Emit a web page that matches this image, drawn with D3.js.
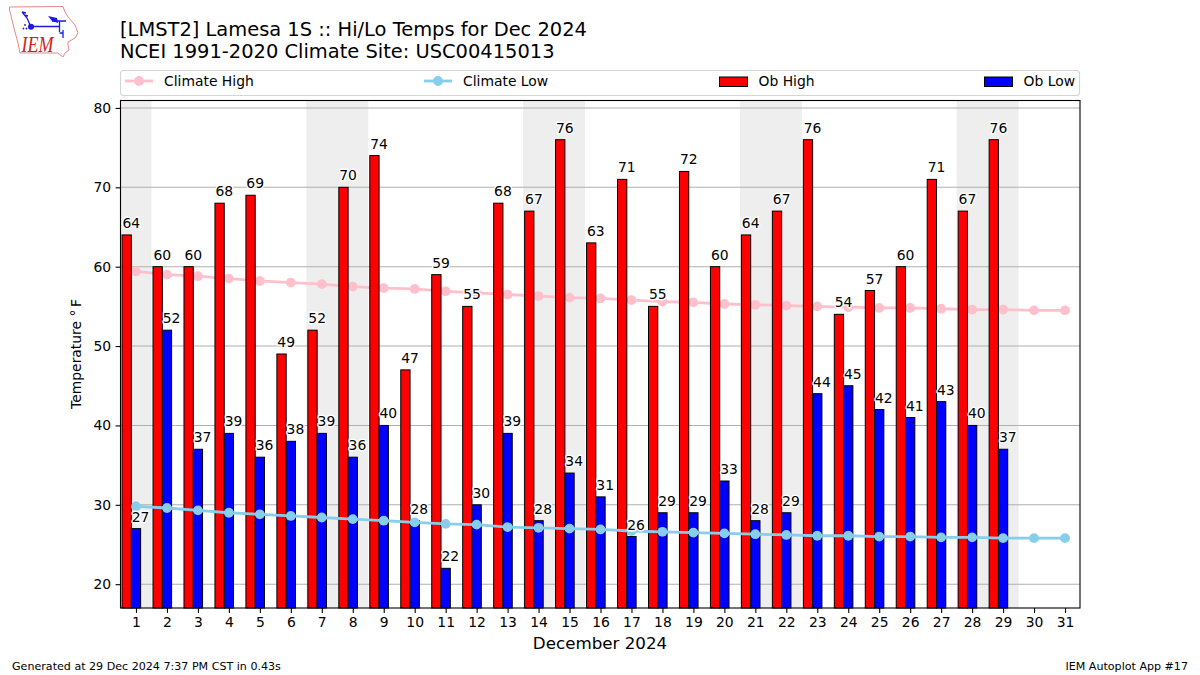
<!DOCTYPE html>
<html>
<head>
<meta charset="utf-8">
<title>Lamesa 1S Hi/Lo Temps</title>
<script src="https://cdn.jsdelivr.net/npm/d3@7"></script>
<style>
html, body { margin: 0; background: #fff; }
svg { display: block; }
text { font-family: "DejaVu Sans", sans-serif; fill: #000; }
.halo { paint-order: stroke; stroke: #fff; stroke-width: 2.8px; stroke-linejoin: round; }
</style>
</head>
<body>
<svg width="1200" height="675"></svg>
<script>
// Valores
const days = d3.range(1, 32);
const obHigh = [64, 60, 60, 68, 69, 49, 52, 70, 74, 47, 59, 55, 68, 67, 76, 63, 71, 55, 72, 60, 64, 67, 76, 54, 57, 60, 71, 67, 76];
const obLow = [27, 52, 37, 39, 36, 38, 39, 36, 40, 28, 22, 30, 39, 28, 34, 31, 26, 29, 29, 33, 28, 29, 44, 45, 42, 41, 43, 40, 37];
const climateHigh = [59.4, 59.0, 58.8, 58.5, 58.2, 58.0, 57.8, 57.5, 57.3, 57.2, 56.9, 56.7, 56.5, 56.3, 56.1, 56.0, 55.8, 55.6, 55.5, 55.3, 55.2, 55.1, 55.0, 54.9, 54.8, 54.8, 54.7, 54.6, 54.6, 54.5, 54.5];
const climateLow = [29.8, 29.6, 29.3, 29.0, 28.8, 28.6, 28.4, 28.2, 28.0, 27.8, 27.6, 27.5, 27.2, 27.1, 27.0, 26.9, 26.7, 26.6, 26.5, 26.4, 26.3, 26.2, 26.1, 26.1, 26.0, 26.0, 25.9, 25.9, 25.8, 25.8, 25.8];
const weekends = [[0.5, 1.5], [6.5, 8.5], [13.5, 15.5], [20.5, 22.5], [27.5, 29.5]];
const yTicks = [20, 30, 40, 50, 60, 70, 80];

const svg = d3.select("svg");
const plotLeft = 120.5, plotRight = 1080, plotTop = 100.5, plotBottom = 608;

const x = d3.scaleLinear().domain([0.5, 31.5]).range([plotLeft, plotRight + 0.5]);
const y = d3.scaleLinear().domain([17, 81]).range([plotBottom, plotTop - 0.5]);
const barW = x(0.3) - x(0);

const plot = svg.append("g");

// Fines de semana
plot.selectAll("rect.weekend")
    .data(weekends)
    .enter().append("rect")
    .attr("class", "weekend")
    .attr("x", d => x(d[0]))
    .attr("width", d => x(d[1]) - x(d[0]))
    .attr("y", plotTop)
    .attr("height", plotBottom - plotTop)
    .attr("fill", "#eeeeee");

// Rejilla horizontal
plot.selectAll("line.grid")
    .data(yTicks)
    .enter().append("line")
    .attr("class", "grid")
    .attr("x1", plotLeft).attr("x2", plotRight)
    .attr("y1", d => y(d)).attr("y2", d => y(d))
    .attr("stroke", "#b0b0b0")
    .attr("stroke-width", 1.1);

function climateLine(values, color) {
    const line = d3.line().x((d, i) => x(days[i])).y(d => y(d));
    const g = plot.append("g");
    g.append("path")
        .attr("d", line(values))
        .attr("fill", "none")
        .attr("stroke", color)
        .attr("stroke-width", 2.8);
    g.selectAll("circle")
        .data(values)
        .enter().append("circle")
        .attr("cx", (d, i) => x(days[i]))
        .attr("cy", d => y(d))
        .attr("r", 4.9)
        .attr("fill", color);
}

// El clima alto queda debajo de las barras
climateLine(climateHigh, "pink");

function bars(values, color, offset) {
    plot.append("g").selectAll("rect")
        .data(values)
        .enter().append("rect")
        .attr("x", (d, i) => x(days[i] + offset) - barW / 2)
        .attr("width", barW)
        .attr("y", d => y(d))
        .attr("height", d => plotBottom - y(d))
        .attr("fill", color)
        .attr("stroke", "#000")
        .attr("stroke-width", 1);
}
bars(obHigh, "red", -0.3);
bars(obLow, "blue", 0);

climateLine(climateLow, "skyblue");

// Etiquetas de valores
function labels(values, offset) {
    svg.append("g").selectAll("text")
        .data(values)
        .enter().append("text")
        .attr("class", "halo")
        .attr("x", (d, i) => x(days[i] + offset))
        .attr("y", d => y(d) - 7)
        .attr("text-anchor", "middle")
        .attr("font-size", 13.9)
        .text(d => d);
}
labels(obHigh, -0.15);
labels(obLow, 0.15);

// Marco
svg.append("rect")
    .attr("x", plotLeft).attr("y", plotTop)
    .attr("width", plotRight - plotLeft).attr("height", plotBottom - plotTop)
    .attr("fill", "none")
    .attr("stroke", "#000")
    .attr("stroke-width", 1.1);

// Ejes
const xAxis = svg.append("g")
    .attr("transform", `translate(0,${plotBottom})`)
    .call(d3.axisBottom(x).tickValues(days).tickFormat(d3.format("d")).tickSize(4.9).tickPadding(4.5));
const yAxis = svg.append("g")
    .attr("transform", `translate(${plotLeft},0)`)
    .call(d3.axisLeft(y).tickValues(yTicks).tickFormat(d3.format("d")).tickSize(4.9).tickPadding(4.5));
[xAxis, yAxis].forEach(a => {
    a.select(".domain").remove();
    a.selectAll(".tick line").attr("stroke", "#000").attr("stroke-width", 1.1);
    a.selectAll(".tick text").attr("font-size", 13.9).attr("font-family", "DejaVu Sans");
});

svg.append("text")
    .attr("x", 600).attr("y", 649)
    .attr("text-anchor", "middle")
    .attr("font-size", 16.7)
    .text("December 2024");

const yLabel = svg.append("text")
    .attr("transform", "translate(81,354) rotate(-90)")
    .attr("text-anchor", "middle")
    .attr("font-size", 13.9)
    .text("Temperature \u00b0");
yLabel.append("tspan").attr("dx", 2.5).text("F");

// Titulo y pie
svg.append("text").attr("x", 120).attr("y", 36).attr("font-size", 19.45)
    .text("[LMST2] Lamesa 1S :: Hi/Lo Temps for Dec 2024");
svg.append("text").attr("x", 120).attr("y", 58).attr("font-size", 19.45)
    .text("NCEI 1991-2020 Climate Site: USC00415013");
svg.append("text").attr("x", 12).attr("y", 670).attr("font-size", 11.1)
    .text("Generated at 29 Dec 2024 7:37 PM CST in 0.43s");
svg.append("text").attr("x", 1188).attr("y", 670).attr("font-size", 11.1)
    .attr("text-anchor", "end")
    .text("IEM Autoplot App #17");

// Leyenda
const legend = svg.append("g");
legend.append("rect")
    .attr("x", 120.5).attr("y", 70.5)
    .attr("width", 959).attr("height", 25)
    .attr("rx", 3)
    .attr("fill", "#fff")
    .attr("stroke", "#d5d5d5")
    .attr("stroke-width", 1.1);

function legendLine(x0, color, name) {
    legend.append("line")
        .attr("x1", x0).attr("x2", x0 + 28)
        .attr("y1", 81).attr("y2", 81)
        .attr("stroke", color).attr("stroke-width", 2.8);
    legend.append("circle")
        .attr("cx", x0 + 14).attr("cy", 81).attr("r", 4.9).attr("fill", color);
    legend.append("text").attr("x", x0 + 39).attr("y", 86).attr("font-size", 13.9).text(name);
}
function legendBar(x0, color, name) {
    legend.append("rect")
        .attr("x", x0).attr("y", 77)
        .attr("width", 28).attr("height", 9.5)
        .attr("fill", color).attr("stroke", "#000").attr("stroke-width", 1);
    legend.append("text").attr("x", x0 + 39).attr("y", 86).attr("font-size", 13.9).text(name);
}
legendLine(125, "pink", "Climate High");
legendLine(424, "skyblue", "Climate Low");
legendBar(719.5, "red", "Ob High");
legendBar(984.5, "blue", "Ob Low");

// Logo IEM
const logo = svg.append("g");
logo.append("path")
    .attr("d", "M9.5,7 L63,6.5 L65,12 L68,17 L75,25 L78,33 L75,38 L68,42 L68,45 L69,50 L65,53 L63,57 L58,53 L20,53 L18,43 L15,32 L12,20 L9.5,10 Z")
    .attr("fill", "none")
    .attr("stroke", "#e58a8a")
    .attr("stroke-width", 1);
logo.append("path")
    .attr("d", "M22,12 L27,18 L31,27 M22,12 L26,13 M24,15 L28,16 M31,26.5 L59,26.5 M52,21 L66,21 M59.5,21 L59.5,32 M59.5,33 L63,33 M63,30 L63,38")
    .attr("fill", "none")
    .attr("stroke", "#1a1ae0")
    .attr("stroke-width", 1.3);
logo.append("circle").attr("cx", 31).attr("cy", 26.7).attr("r", 3).attr("fill", "#1a1ae0");
logo.append("path").attr("d", "M48,16 L57,18 L58,23 L52,21 Z").attr("fill", "#1a1ae0");
logo.selectAll("circle.dot")
    .data([[25, 25], [23.5, 28.5], [26.5, 28.5]])
    .enter().append("circle")
    .attr("class", "dot")
    .attr("cx", d => d[0]).attr("cy", d => d[1])
    .attr("r", 0.9)
    .attr("fill", "#1a1ae0");
logo.append("text")
    .attr("transform", "translate(21.5,52) scale(1,1.25)")
    .attr("font-size", 18)
    .attr("font-style", "italic")
    .style("font-family", "'Liberation Serif'")
    .style("fill", "#d02020")
    .text("IEM");
</script>
</body>
</html>
